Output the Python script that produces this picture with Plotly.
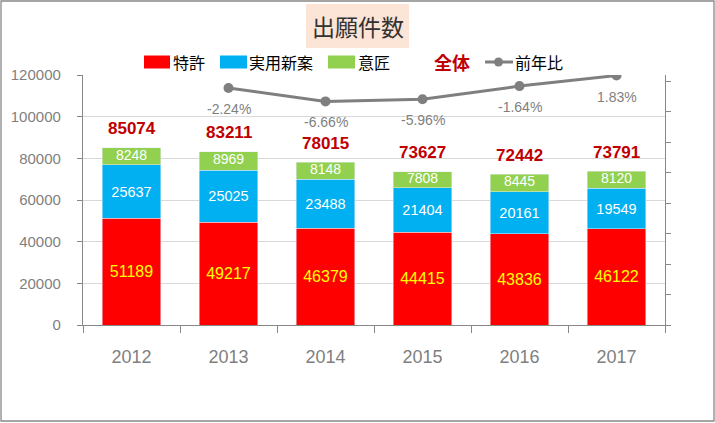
import plotly.graph_objects as go

years = ["2012", "2013", "2014", "2015", "2016", "2017"]
tokkyo = [51189, 49217, 46379, 44415, 43836, 46122]
jitsuyo = [25637, 25025, 23488, 21404, 20161, 19549]
isho = [8248, 8969, 8148, 7808, 8445, 8120]
totals = [85074, 83211, 78015, 73627, 72442, 73791]
yoy_years = ["2013", "2014", "2015", "2016", "2017"]
yoy = [-2.24, -6.66, -5.96, -1.64, 1.83]

W, H = 715, 423
L, R, T, B = 83, 665, 75, 325
PW, PH = R - L, B - T

def px(x):
    return (x - L) / PW

def py(y):
    return (B - y) / PH

NUM = "Liberation Sans, Arial, sans-serif"
CJK = "Noto Sans CJK JP, sans-serif"
GRAY = "#7F7F7F"

fig = go.Figure()
fig.add_trace(go.Bar(x=years, y=tokkyo, name="特許", marker_color="#FF0000",
                     text=[str(v) for v in tokkyo], textposition="inside",
                     insidetextanchor="middle", textangle=0,
                     textfont=dict(color="#FFFF00", size=16, family=NUM)))
fig.add_trace(go.Bar(x=years, y=jitsuyo, name="実用新案", marker_color="#00B0F0",
                     text=[str(v) for v in jitsuyo], textposition="inside",
                     insidetextanchor="middle", textangle=0,
                     textfont=dict(color="#FFFFFF", size=14.5, family=NUM)))
fig.add_trace(go.Bar(x=years, y=isho, name="意匠", marker_color="#92D050"))
# labels of the thin 意匠 segments, placed at the segment middles
isho_mid = [a + b + c / 2 for a, b, c in zip(tokkyo, jitsuyo, isho)]
fig.add_trace(go.Scatter(x=years, y=isho_mid, mode="text",
                         text=[str(v) for v in isho], textposition="middle center",
                         textfont=dict(color="#FFFFFF", size=14, family=NUM),
                         hoverinfo="skip", showlegend=False))
fig.add_trace(go.Scatter(x=yoy_years, y=yoy, name="前年比", yaxis="y2",
                         mode="lines+markers",
                         line=dict(color=GRAY, width=3),
                         marker=dict(color=GRAY, size=10)))

annotations = []
for i, t in enumerate(totals):
    annotations.append(dict(x=i, y=t, xref="x", yref="y", text="<b>%d</b>" % t,
                            showarrow=False, yshift=19, yanchor="middle",
                            font=dict(color="#C00000", size=17, family=NUM)))
for yr, v in zip(yoy_years, yoy):
    annotations.append(dict(x=years.index(yr), y=v, xref="x", yref="y2",
                            text="%.2f%%" % v,
                            showarrow=False, yshift=-21, yanchor="middle",
                            font=dict(color=GRAY, size=14, family=NUM)))

# title
annotations.append(dict(x=px(357.5), y=py(26), xref="paper", yref="paper",
                        text="出願件数", showarrow=False,
                        xanchor="center", yanchor="middle",
                        font=dict(size=23, color="#333333", family=CJK)))

# custom legend
legend_items = [
    ("特許", 144, 170, 171, "#FF0000"),
    ("実用新案", 220, 247, 247, "#00B0F0"),
    ("意匠", 328, 355, 356, "#92D050"),
]
shapes = []
LY = 62
for name, x0, x1, tx, col in legend_items:
    shapes.append(dict(type="rect", xref="paper", yref="paper",
                       x0=px(x0), x1=px(x1), y0=py(LY + 6.5), y1=py(LY - 6.5),
                       fillcolor=col, line=dict(width=0)))
    annotations.append(dict(x=px(tx), y=py(LY), xref="paper", yref="paper",
                            text=name, showarrow=False,
                            xanchor="left", yanchor="middle",
                            font=dict(size=16, color="#000000", family=CJK)))
annotations.append(dict(x=px(432), y=py(LY), xref="paper", yref="paper",
                        text="<b>全体</b>", showarrow=False,
                        xanchor="left", yanchor="middle",
                        font=dict(size=18, color="#C00000", family=CJK)))
shapes.append(dict(type="line", xref="paper", yref="paper",
                   x0=px(485), x1=px(513), y0=py(LY), y1=py(LY),
                   line=dict(color=GRAY, width=3)))
shapes.append(dict(type="circle", xref="paper", yref="paper",
                   x0=px(494), x1=px(503), y0=py(LY + 4.5), y1=py(LY - 4.5),
                   fillcolor=GRAY, line=dict(width=0)))
annotations.append(dict(x=px(513), y=py(LY), xref="paper", yref="paper",
                        text="前年比", showarrow=False,
                        xanchor="left", yanchor="middle",
                        font=dict(size=16, color="#000000", family=CJK)))

# title background
shapes.append(dict(type="rect", xref="paper", yref="paper", layer="below",
                   x0=px(306), x1=px(409), y0=py(48), y1=py(4),
                   fillcolor="#FCE4D6", line=dict(width=0)))
# outer border
shapes.append(dict(type="rect", xref="paper", yref="paper",
                   x0=px(1), x1=px(714), y0=py(421), y1=py(1),
                   line=dict(color="#888888", width=1.3)))

fig.update_layout(
    width=W, height=H,
    margin=dict(l=L, r=W - R, t=T, b=H - B, pad=0, autoexpand=False),
    barmode="stack", bargap=0.4,
    showlegend=False,
    paper_bgcolor="white", plot_bgcolor="white",
    annotations=annotations, shapes=shapes,
    xaxis=dict(type="category", tickson="boundaries", ticks="outside",
               ticklen=7, tickcolor="#888888", showline=True,
               linecolor="#888888", linewidth=1.3, showgrid=False,
               range=[-0.5, 5.5], automargin=False, tickangle=0,
               tickfont=dict(size=18, color=GRAY, family=NUM),
               ticklabelstandoff=15),
    yaxis=dict(range=[0, 120000], dtick=20000, tickformat="d", showgrid=True,
               gridcolor="#D9D9D9", zeroline=False, showline=True,
               linecolor="#888888", linewidth=1.3, ticks="outside", ticklen=5,
               tickcolor="#888888", automargin=False,
               tickfont=dict(size=15, color=GRAY, family=NUM),
               ticklabelstandoff=13),
    yaxis2=dict(overlaying="y", side="right", range=[-80, 2], tick0=0,
                dtick=10, showticklabels=False, showgrid=False,
                zeroline=False, showline=True, linecolor="#888888",
                linewidth=1.3, ticks="outside", ticklen=5, automargin=False,
                tickcolor="#888888"),
)

fig.write_html("out.html", config={"displayModeBar": False},
               post_script="document.body.style.margin='0px';"
                           "document.body.style.overflow='hidden';")
